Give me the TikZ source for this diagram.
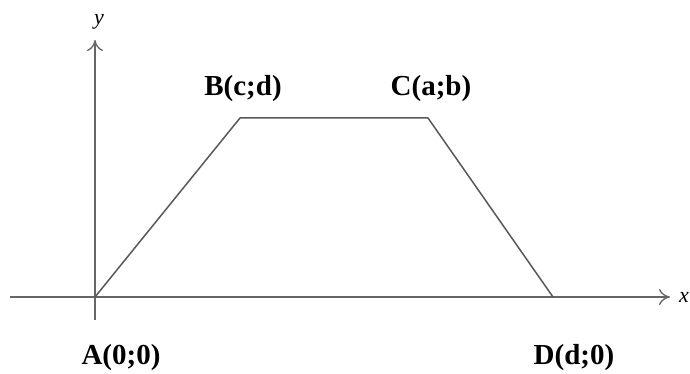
\documentclass[tikz,border=0pt]{standalone}
\usepackage{fontspec}
\setmainfont{Liberation Serif}
\usetikzlibrary{arrows.meta}
\begin{document}
\begin{tikzpicture}[x=1pt,y=-1pt,
  axis/.style={draw=black!60,line width=1.3pt,-{To[length=11pt,width=16pt,line width=1.3pt]}},
  edge/.style={draw=black!65,line width=1.5pt},
  lbl/.style={font=\fontsize{29}{32}\selectfont\bfseries,inner sep=0pt},
  axlbl/.style={font=\fontsize{22}{24}\selectfont\itshape,inner sep=0pt}]
\useasboundingbox (0,0) rectangle (690,374);
\fill[white] (0,0) rectangle (690,374);
\coordinate (A) at (95,297);
\coordinate (B) at (240,118);
\coordinate (C) at (428,118);
\coordinate (D) at (553,297);
\coordinate (xs) at (10,297);
\coordinate (xe) at (670,297);
\coordinate (ys) at (95,320);
\coordinate (ye) at (95,40);
\draw[axis] (xs) -- (xe);
\draw[axis] (ys) -- (ye);
\draw[edge,line join=round] (A) -- (B) -- (C) -- (D);
\node[axlbl] (xl) at (684,297) {x};
\node[axlbl] (yl) at (99,22) {y};
\node[lbl] (Bl) at (243,89) {B(c;d)};
\node[lbl] (Cl) at (431,89) {C(a;b)};
\node[lbl] (Al) at (121,358) {A(0;0)};
\node[lbl] (Dl) at (574,358) {D(d;0)};
\end{tikzpicture}
\end{document}
